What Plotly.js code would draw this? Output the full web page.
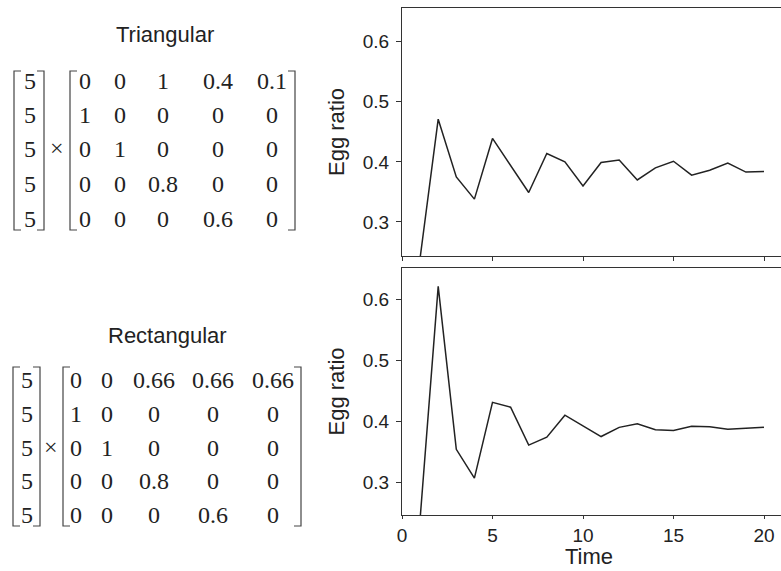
<!DOCTYPE html>
<html>
<head>
<meta charset="utf-8">
<script src="https://cdn.plot.ly/plotly-3.0.1.min.js"></script>
<style>html,body{margin:0;padding:0;background:#fff;}#chart{width:781px;height:571px;}</style>
</head>
<body>
<div id="chart"></div>
<script>
// ---- data ----
const time = [1,2,3,4,5,6,7,8,9,10,11,12,13,14,15,16,17,18,19,20];
const eggTriangular = [0.24,0.471,0.375,0.338,0.439,0.394,0.349,0.414,0.400,0.360,0.399,0.403,0.370,0.390,0.401,0.378,0.386,0.398,0.383,0.384];
const eggRectangular = [0.24,0.621,0.354,0.307,0.431,0.423,0.361,0.374,0.410,0.393,0.375,0.390,0.396,0.386,0.385,0.392,0.391,0.387,0.388,0.390];
const xTicks = [0,5,10,15,20];
const yTicks = [0.3,0.4,0.5,0.6];
const xTitle = 'Time';
const yTitle = 'Egg ratio';
const triTitle = 'Triangular';
const rectTitle = 'Rectangular';
const triVector = ['5','5','5','5','5'];
const triMatrix = [
  ['0','0','1','0.4','0.1'],
  ['1','0','0','0','0'],
  ['0','1','0','0','0'],
  ['0','0','0.8','0','0'],
  ['0','0','0','0.6','0']
];
const rectVector = ['5','5','5','5','5'];
const rectMatrix = [
  ['0','0','0.66','0.66','0.66'],
  ['1','0','0','0','0'],
  ['0','1','0','0','0'],
  ['0','0','0.8','0','0'],
  ['0','0','0','0.6','0']
];

// ---- layout geometry (pixels) ----
const W = 781, H = 571;
const M = {l: 402, r: 0, t: 8, b: 56};
const PW = W - M.l - M.r, PH = H - M.t - M.b;
const px = x => (x - M.l) / PW;
const py = y => (H - M.b - y) / PH;

const ink = '#222';
const sans = 'Liberation Sans, Arial, sans-serif';
const serif = 'Liberation Serif, Times New Roman, serif';

const traces = [
  {x: time, y: eggTriangular, xaxis: 'x', yaxis: 'y', mode: 'lines', line: {color: ink, width: 1.5}, hoverinfo: 'skip'},
  {x: time, y: eggRectangular, xaxis: 'x2', yaxis: 'y2', mode: 'lines', line: {color: ink, width: 1.5}, hoverinfo: 'skip'}
];

const xRange = [0, PW / 18.1];
const axBase = {
  showgrid: false, zeroline: false, showline: true, linecolor: '#333', linewidth: 1,
  ticks: 'outside', ticklen: 5, tickcolor: '#333', tickwidth: 1,
  tickfont: {family: sans, size: 19, color: ink}
};

const annotations = [];
const shapes = [];

function bracket(x0, x1, y0, y1, serifLen) {
  shapes.push({type: 'path', xref: 'paper', yref: 'paper',
    path: `M ${px(x0+serifLen)},${py(y0)} L ${px(x0)},${py(y0)} L ${px(x0)},${py(y1)} L ${px(x0+serifLen)},${py(y1)}`,
    line: {color: '#444', width: 1.2}});
  shapes.push({type: 'path', xref: 'paper', yref: 'paper',
    path: `M ${px(x1-serifLen)},${py(y0)} L ${px(x1)},${py(y0)} L ${px(x1)},${py(y1)} L ${px(x1-serifLen)},${py(y1)}`,
    line: {color: '#444', width: 1.2}});
}

function txt(x, y, text, font, size) {
  annotations.push({xref: 'paper', yref: 'paper', x: px(x), y: py(y), text: text,
    showarrow: false, xanchor: 'center', yanchor: 'middle',
    font: {family: font, size: size, color: ink}});
}

function drawMatrix(spec) {
  txt(spec.titleX, spec.titleY, spec.title, sans, 22);
  bracket(spec.vecL, spec.vecR, spec.top, spec.bottom, 7);
  bracket(spec.matL, spec.matR, spec.top, spec.bottom, 7);
  spec.vector.forEach((v, i) => txt(spec.vecX, spec.rows[i] + 2, v, serif, 24));
  txt(spec.timesX, spec.rows[2] + 1, '×', serif, 24);
  spec.matrix.forEach((row, i) => row.forEach((v, j) => txt(spec.cols[j], spec.rows[i] + 2, v, serif, 24)));
}

drawMatrix({title: triTitle, titleX: 165, titleY: 34, vector: triVector, matrix: triMatrix,
  vecL: 14, vecR: 44, matL: 70, matR: 295, top: 71, bottom: 230,
  vecX: 30, timesX: 57, cols: [85, 120, 163, 218, 272], rows: [79, 113, 147, 182, 217]});
drawMatrix({title: rectTitle, titleX: 168, titleY: 335, vector: rectVector, matrix: rectMatrix,
  vecL: 13, vecR: 40, matL: 63, matR: 301, top: 367, bottom: 526,
  vecX: 27, timesX: 51, cols: [76, 107, 154, 213, 273], rows: [378, 412, 446, 479, 513]});

// x axis title placed as annotation, kept inside the page
txt(589, 556, xTitle, sans, 22);

const layout = {
  width: W, height: H, margin: M, paper_bgcolor: '#fff', plot_bgcolor: '#fff',
  showlegend: false,
  xaxis: Object.assign({}, axBase, {domain: [0, 1], range: xRange, tickvals: xTicks, showticklabels: false, mirror: true, anchor: 'y', ticklen: 4}),
  yaxis: Object.assign({}, axBase, {domain: [py(256), py(8)], range: [0.2434, 0.656], tickvals: yTicks, tickformat: '.1f', anchor: 'x', ticklabelstandoff: 3,
    title: {text: yTitle, font: {family: sans, size: 22, color: ink}, standoff: 12}}),
  xaxis2: Object.assign({}, axBase, {domain: [0, 1], range: xRange, tickvals: xTicks, mirror: true, anchor: 'y2', ticklen: 3, ticklabelstandoff: 0}),
  yaxis2: Object.assign({}, axBase, {domain: [0, py(268)], range: [0.2465, 0.651], tickvals: yTicks, tickformat: '.1f', anchor: 'x2', ticklabelstandoff: 3,
    title: {text: yTitle, font: {family: sans, size: 22, color: ink}, standoff: 12}}),
  annotations: annotations,
  shapes: shapes
};

Plotly.newPlot('chart', traces, layout, {staticPlot: true, displayModeBar: false});
</script>
</body>
</html>
